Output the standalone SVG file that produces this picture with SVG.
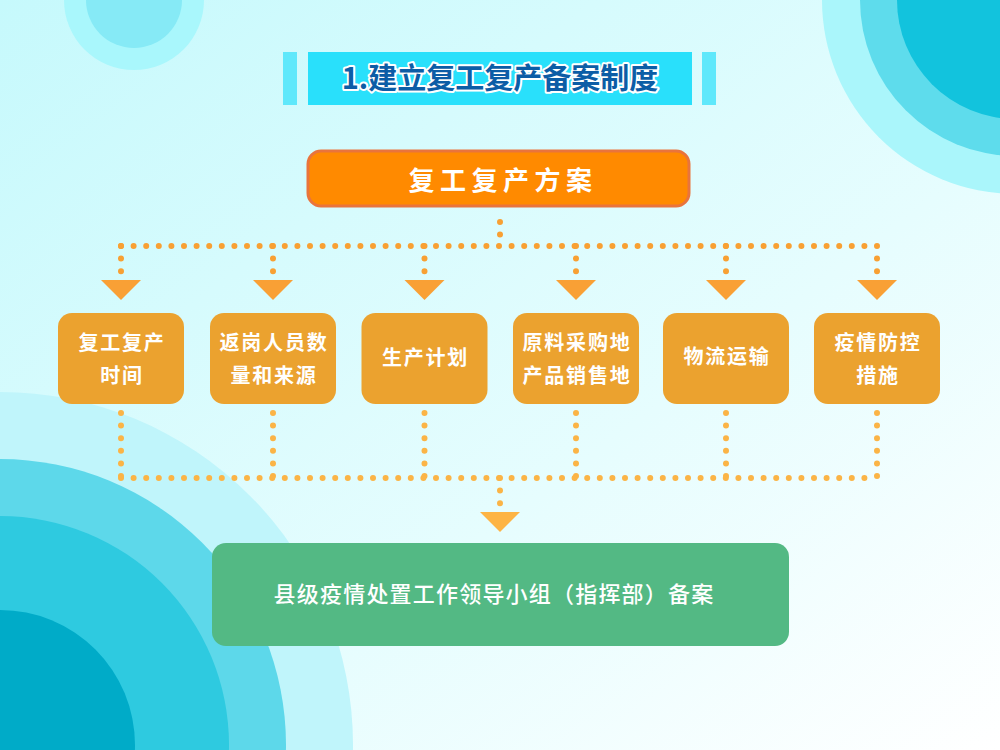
<svg xmlns="http://www.w3.org/2000/svg" width="1000" height="750" viewBox="0 0 1000 750">
<defs>
<linearGradient id="bg" x1="0" y1="0" x2="1" y2="1">
<stop offset="0" stop-color="#c6f9fc"/>
<stop offset="0.6" stop-color="#e6fdfe"/>
<stop offset="1" stop-color="#ffffff"/>
</linearGradient>
<style>
.title{font-family:"Noto Sans CJK SC","Noto Sans",sans-serif;font-weight:bold;font-size:29px;fill:#0c5da6;stroke:#ffffff;stroke-width:4px;stroke-linejoin:round;paint-order:stroke;text-anchor:middle}
.top{font-family:"Noto Sans CJK SC","Noto Sans",sans-serif;font-weight:bold;font-size:26px;fill:#ffffff;text-anchor:middle;letter-spacing:5.5px}
.nt{font-family:"Noto Sans CJK SC","Noto Sans",sans-serif;font-weight:bold;font-size:20px;fill:#ffffff;text-anchor:middle;letter-spacing:1.8px}
.gt{font-family:"Noto Sans CJK SC","Noto Sans",sans-serif;font-weight:500;font-size:22px;fill:#ffffff;text-anchor:middle;letter-spacing:1.2px}
.node{fill:#eba22f}
.dot{fill:none;stroke:#f8a033;stroke-width:6;stroke-linecap:round;stroke-dasharray:0 12.6}
.dot2{fill:none;stroke:#fbb446;stroke-width:6;stroke-linecap:round;stroke-dasharray:0 12.6}
.tri{fill:#f9a035}
.tri2{fill:#fdb444}
</style>
</defs>
<rect width="1000" height="750" fill="url(#bg)"/>
<circle cx="134" cy="0" r="70" fill="#a9f7fc"/>
<circle cx="134" cy="0" r="48" fill="#86eaf6"/>
<circle cx="1016" cy="0" r="194" fill="#aaf6fb"/>
<circle cx="1016" cy="0" r="156" fill="#5edcec"/>
<circle cx="1016" cy="0" r="119" fill="#12c3dd"/>
<circle cx="0" cy="745" r="353" fill="#c0f5fb"/>
<circle cx="0" cy="745" r="286" fill="#5dd8ea"/>
<circle cx="0" cy="745" r="229" fill="#2ecae0"/>
<circle cx="0" cy="745" r="135" fill="#00abc8"/>

<g id="title">
<rect x="283" y="52" width="14" height="53" fill="#5fe8fb"/>
<rect x="308" y="52" width="384" height="53" fill="#29e0fb"/>
<rect x="702" y="52" width="14" height="53" fill="#5fe8fb"/>
<text class="title" x="500" y="89">1.建立复工复产备案制度</text>
</g>

<g id="connectors">
<path class="dot" d="M500 222V246"/>
<path class="dot" d="M121 246H877"/>
<path class="dot" d="M121 246V272M273 246V272M424.5 246V272M576 246V272M726 246V272M877 246V272"/>
<polygon class="tri" points="101,280 141,280 121,300"/>
<polygon class="tri" points="253,280 293,280 273,300"/>
<polygon class="tri" points="404.5,280 444.5,280 424.5,300"/>
<polygon class="tri" points="556,280 596,280 576,300"/>
<polygon class="tri" points="706,280 746,280 726,300"/>
<polygon class="tri" points="857,280 897,280 877,300"/>
<path class="dot2" d="M121 413V478M273 413V478M424.5 413V478M576 413V478M726 413V478M877 413V478"/>
<path class="dot2" d="M121 478H877"/>
<path class="dot2" d="M500 478V504"/>
<polygon class="tri2" points="480,512 520,512 500,532"/>
</g>

<g id="n0">
<rect x="308" y="151" width="381" height="55" rx="13" fill="#ff8a00" stroke="#e9743c" stroke-width="3"/>
<text class="top" x="503" y="190">复工复产方案</text>
</g>
<g id="n1">
<rect class="node" x="58" y="313" width="126" height="91" rx="14"/>
<text class="nt" x="122" y="350">复工复产</text>
<text class="nt" x="122" y="383">时间</text>
</g>
<g id="n2">
<rect class="node" x="210" y="313" width="126" height="91" rx="14"/>
<text class="nt" x="274" y="350">返岗人员数</text>
<text class="nt" x="274" y="383">量和来源</text>
</g>
<g id="n3">
<rect class="node" x="361.5" y="313" width="126" height="91" rx="14"/>
<text class="nt" x="425.5" y="365">生产计划</text>
</g>
<g id="n4">
<rect class="node" x="513" y="313" width="126" height="91" rx="14"/>
<text class="nt" x="577" y="350">原料采购地</text>
<text class="nt" x="577" y="383">产品销售地</text>
</g>
<g id="n5">
<rect class="node" x="663" y="313" width="126" height="91" rx="14"/>
<text class="nt" x="727" y="364">物流运输</text>
</g>
<g id="n6">
<rect class="node" x="814" y="313" width="126" height="91" rx="14"/>
<text class="nt" x="878" y="350">疫情防控</text>
<text class="nt" x="878" y="383">措施</text>
</g>
<g id="n7">
<rect x="212" y="543" width="577" height="103" rx="14" fill="#53b984"/>
<text class="gt" x="494" y="602">县级疫情处置工作领导小组（指挥部）备案</text>
</g>
</svg>
